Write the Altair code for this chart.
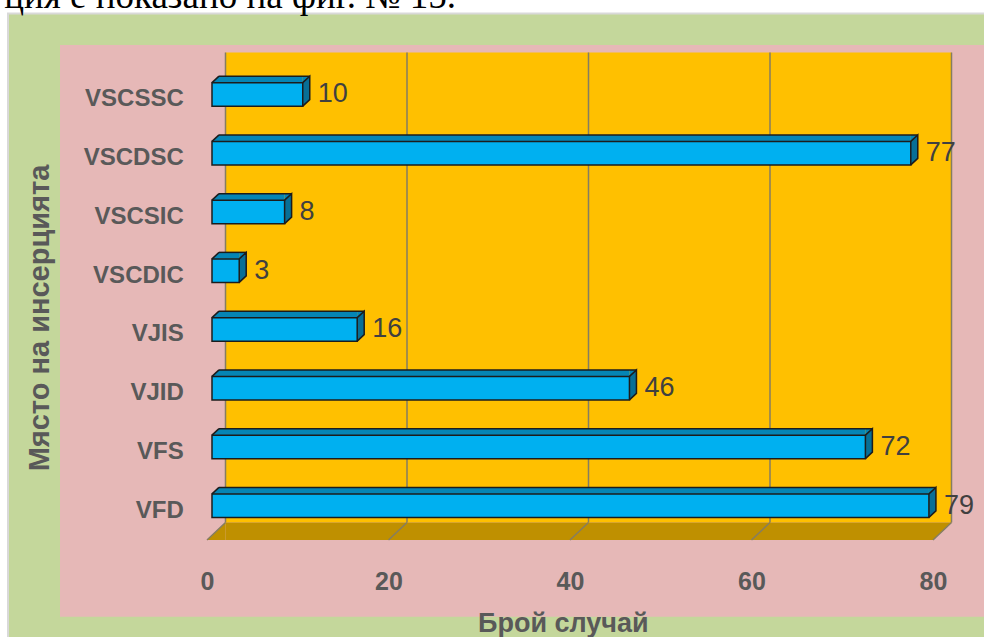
import altair as alt
import pandas as pd

# ---------------- data ----------------
categories = ["VSCSSC", "VSCDSC", "VSCSIC", "VSCDIC", "VJIS", "VJID", "VFS", "VFD"]
values = [10, 77, 8, 3, 16, 46, 72, 79]
x_ticks = [0, 20, 40, 60, 80]
caption = "ция е показано на фиг. № 15."
x_title = "Брой случай"
y_title = "Място на инсерцията"

df = pd.DataFrame({"cat": categories, "v": values})
ticks_df = pd.DataFrame({"t": x_ticks})
one = pd.DataFrame({"k": [0]})

# ---------------- styling / geometry ----------------
W, H = 726, 470
DX, DY = 18.5, -17.5        # depth of the 3D wall/floor
BX, BY = 7, -6.5            # depth of bars
FX, FY = 5, -5              # bar front-face offset from the front plane
BH = 23.5                   # bar front-face height

GREEN = "#c4d79b"
PINK = "#e6b8b7"
WALL = "#ffc000"
FLOOR = "#bf9000"
GRID = "#857d62"
BAR = "#00b0f0"
TOP = "#0585b5"
SIDE = "#086f96"
EDGE = "#1c1c1c"
TXT = "#595959"
FONT = "Liberation Sans"

xs = alt.Scale(domain=[0, 80], nice=False, zero=True)
ys = alt.Scale(domain=categories, paddingInner=0, paddingOuter=0)

AXX = alt.Axis(
    values=x_ticks, title=x_title, grid=False, ticks=False, domain=False, zindex=2,
    labelFont=FONT, labelFontSize=25, labelFontWeight="bold", labelColor=TXT,
    labelPadding=29, labelFlush=False, titleFont=FONT, titleFontSize=27,
    titleFontWeight="bold", titleColor=TXT, titleX=355.8, titleY=91,
    titleBaseline="alphabetic", titleAlign="center"
)
AXY = alt.Axis(
    title=y_title, grid=False, ticks=False, domain=False, zindex=2,
    labelFont=FONT, labelFontSize=24, labelFontWeight="bold", labelColor=TXT,
    labelPadding=23.7, titleFont=FONT, titleFontSize=29, titleFontWeight="bold",
    titleColor=TXT, titleAngle=270, titleX=-158.7, titleY=247.5,
    titleBaseline="alphabetic", titleAlign="center"
)


def XD(v):
    return alt.XDatum(v, scale=xs, axis=AXX)


XV = alt.X("v:Q", scale=xs, axis=AXX)
XT = alt.X("t:Q", scale=xs, axis=AXX)
YC = alt.Y("cat:N", scale=ys, axis=AXY)

# ---------------- background panels ----------------
green = alt.Chart(one).mark_rect(fill=GREEN, stroke="#d9d9d9", strokeWidth=2).encode(
    x=alt.value(-199), x2=alt.value(800), y=alt.value(-56.5), y2=alt.value(600)
)
pink = alt.Chart(one).mark_rect(fill=PINK).encode(
    x=alt.value(-147), x2=alt.value(800), y=alt.value(-25), y2=alt.value(546.7)
)
cap = alt.Chart(one).mark_text(
    text=caption, align="right", baseline="alphabetic", font="Liberation Serif",
    fontSize=37, color="#000000"
).encode(x=alt.value(249), y=alt.value(-62))

# ---------------- wall & floor ----------------
wall = alt.Chart(one).mark_rect(fill=WALL, xOffset=DX, x2Offset=DX).encode(
    x=XD(0), x2=alt.X2Datum(80), y=alt.value(DY), y2=alt.value(H + DY)
)
wall_grid = alt.Chart(ticks_df).mark_rule(color=GRID, strokeWidth=1.5, xOffset=DX).encode(
    x=XT, y=alt.value(DY), y2=alt.value(H + DY)
)
floor_mid = alt.Chart(one).mark_rect(fill=FLOOR, xOffset=DX, x2Offset=0).encode(
    x=XD(0), x2=alt.X2Datum(80), y=alt.value(H + DY), y2=alt.value(H)
)
floor_left = alt.Chart(one).mark_point(
    shape=f"M0,0L{DX},0L{DX},{DY}Z", size=4, filled=True, fill=FLOOR, opacity=1, strokeWidth=0
).encode(x=XD(0), y=alt.value(H))
floor_right = alt.Chart(one).mark_point(
    shape=f"M0,0L{DX},{DY}L0,{DY}Z", size=4, filled=True, fill=FLOOR, opacity=1, strokeWidth=0
).encode(x=XD(80), y=alt.value(H))
floor_grid = alt.Chart(ticks_df).mark_point(
    shape=f"M0,0L{DX},{DY}", size=4, filled=False, stroke=GRID, strokeWidth=1.5, opacity=1
).encode(x=XT, y=alt.value(H))

# ---------------- bars ----------------
ytop = FY - BH / 2  # offset of front top edge from band centre

top_strip = alt.Chart(df).mark_bar(
    size=-BY, fill=TOP, strokeWidth=0, xOffset=FX, x2Offset=FX + BX, yOffset=ytop + BY / 2
).encode(x=XV, x2=alt.X2Datum(0), y=YC)

top_left = alt.Chart(df).mark_point(
    shape=f"M0,0L{BX},0L{BX},{BY}Z", size=4, filled=True, fill=TOP, opacity=1, strokeWidth=0,
    xOffset=FX, yOffset=ytop
).encode(x=XD(0), y=YC)

top_right = alt.Chart(df).mark_point(
    shape=f"M0,0L{BX},{BY}L0,{BY}Z", size=4, filled=True, fill=TOP, opacity=1, strokeWidth=0,
    xOffset=FX, yOffset=ytop
).encode(x=XV, y=YC)

side = alt.Chart(df).mark_point(
    shape=f"M0,0L{BX},{BY}L{BX},{BH + BY}L0,{BH}Z", size=4, filled=True, fill=SIDE, opacity=1,
    strokeWidth=0, xOffset=FX, yOffset=ytop
).encode(x=XV, y=YC)

front = alt.Chart(df).mark_bar(
    size=BH, fill=BAR, stroke=EDGE, strokeWidth=1.5, xOffset=FX, x2Offset=FX, yOffset=FY
).encode(x=XV, x2=alt.X2Datum(0), y=YC)

edge_left = alt.Chart(df).mark_point(
    shape=f"M0,0L{BX},{BY}", size=4, filled=False, stroke=EDGE, strokeWidth=1.5, opacity=1,
    xOffset=FX, yOffset=ytop
).encode(x=XD(0), y=YC)

edge_right = alt.Chart(df).mark_point(
    shape=f"M0,0L{BX},{BY}L{BX},{BH + BY}L0,{BH}", size=4, filled=False, stroke=EDGE,
    strokeWidth=1.5, opacity=1, xOffset=FX, yOffset=ytop
).encode(x=XV, y=YC)

edge_top = alt.Chart(df).mark_rule(
    color=EDGE, strokeWidth=1.5, xOffset=FX + BX, x2Offset=FX + BX, yOffset=ytop + BY
).encode(x=XV, x2=alt.X2Datum(0), y=YC)

labels = alt.Chart(df).mark_text(
    align="left", baseline="middle", dx=FX + 15, dy=FY, font=FONT, fontSize=27, color="#404040"
).encode(x=XV, y=YC, text="v:Q")

chart = alt.layer(
    green, pink, cap, wall, wall_grid, floor_mid, floor_left, floor_right, floor_grid,
    top_strip, top_left, top_right, side, front, edge_left, edge_right, edge_top, labels
).properties(
    width=W, height=H,
    padding={"left": 207, "top": 70, "right": 51, "bottom": 97},
    autosize=alt.AutoSizeParams(type="none"),
    background="white",
).configure_view(stroke=None)

chart.save("out.html", embed_options={"renderer": "svg", "actions": False})
